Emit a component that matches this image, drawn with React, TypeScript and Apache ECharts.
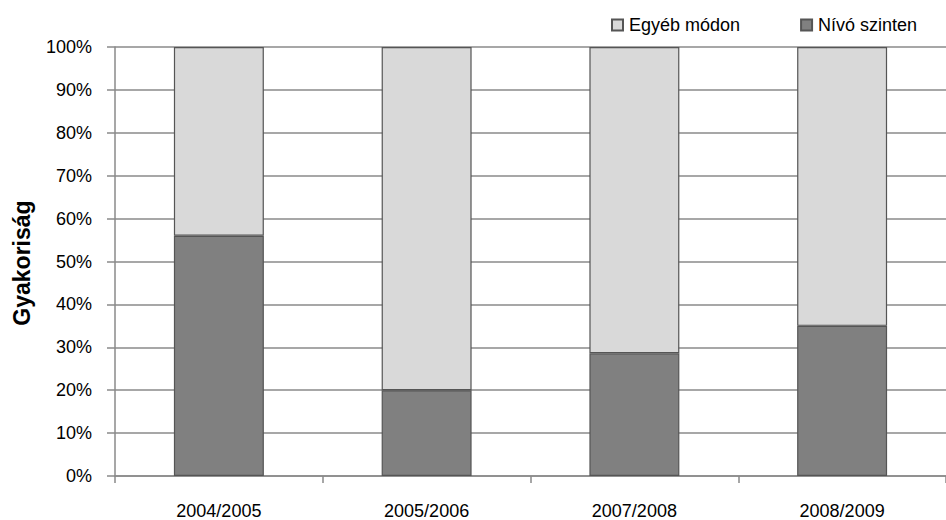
import React, { useEffect, useRef } from "react";
import * as echarts from "echarts";

const categories = ["2004/2005", "2005/2006", "2007/2008", "2008/2009"];
const nivoSzinten = [56, 20, 28.6, 35];
const egyebModon = [44, 80, 71.4, 65];
const seriesNames = ["Egyéb módon", "Nívó szinten"];
const yAxisTitle = "Gyakoriság";

const FONT = "'Liberation Sans', Arial, sans-serif";

export default function App() {
  const ref = useRef<HTMLDivElement>(null);
  useEffect(() => {
    if (!ref.current) return;
    const chart = echarts.init(ref.current, undefined, { renderer: "svg" });
    chart.setOption({
      animation: false,
      backgroundColor: "#ffffff",
      grid: { left: 115, right: -13, top: 47, bottom: 44, containLabel: false },
      legend: {
        data: seriesNames,
        left: 611,
        top: 16,
        padding: 0,
        width: 400,
        itemWidth: 11,
        itemHeight: 11,
        itemGap: 60,
        icon: "rect",
        textStyle: { fontFamily: FONT, fontSize: 18, color: "#000", padding: [0, 0, 0, 1] },
      },
      graphic: [
        {
          type: "text",
          x: 22,
          y: 263,
          rotation: Math.PI / 2,
          style: {
            text: yAxisTitle,
            fontFamily: FONT,
            fontWeight: "bold",
            fontSize: 23,
            fill: "#000",
            textAlign: "center",
            textVerticalAlign: "middle",
          },
        },
      ],
      xAxis: {
        type: "category",
        data: categories,
        boundaryGap: true,
        axisLine: { show: true, lineStyle: { color: "#8a8a8a", width: 1.5 } },
        axisTick: { show: true, alignWithLabel: false, length: 7, lineStyle: { color: "#8a8a8a", width: 1.5 } },
        axisLabel: { fontFamily: FONT, fontSize: 18, color: "#000", margin: 26 },
        splitLine: { show: false },
      },
      yAxis: {
        type: "value",
        min: 0,
        max: 100,
        interval: 10,
        axisLine: { show: true, lineStyle: { color: "#8a8a8a", width: 1.5 } },
        axisTick: { show: true, length: 8, lineStyle: { color: "#8a8a8a", width: 1.5 } },
        axisLabel: { fontFamily: FONT, fontSize: 18, color: "#000", margin: 23, formatter: "{value}%" },
        splitLine: { show: true, lineStyle: { color: "#8a8a8a", width: 1.5 } },
      },
      series: [
        {
          name: seriesNames[1],
          type: "bar",
          stack: "total",
          data: nivoSzinten,
          barWidth: "43.3%",
          itemStyle: { color: "#808080", borderColor: "#555555", borderWidth: 1.2 },
        },
        {
          name: seriesNames[0],
          type: "bar",
          stack: "total",
          data: egyebModon,
          barWidth: "43.3%",
          itemStyle: { color: "#d9d9d9", borderColor: "#555555", borderWidth: 1.2 },
        },
      ],
    });
    return () => chart.dispose();
  }, []);
  return (
    <div
      ref={ref}
      style={{ position: "absolute", left: 0, top: 0, width: 946, height: 520 }}
    />
  );
}
